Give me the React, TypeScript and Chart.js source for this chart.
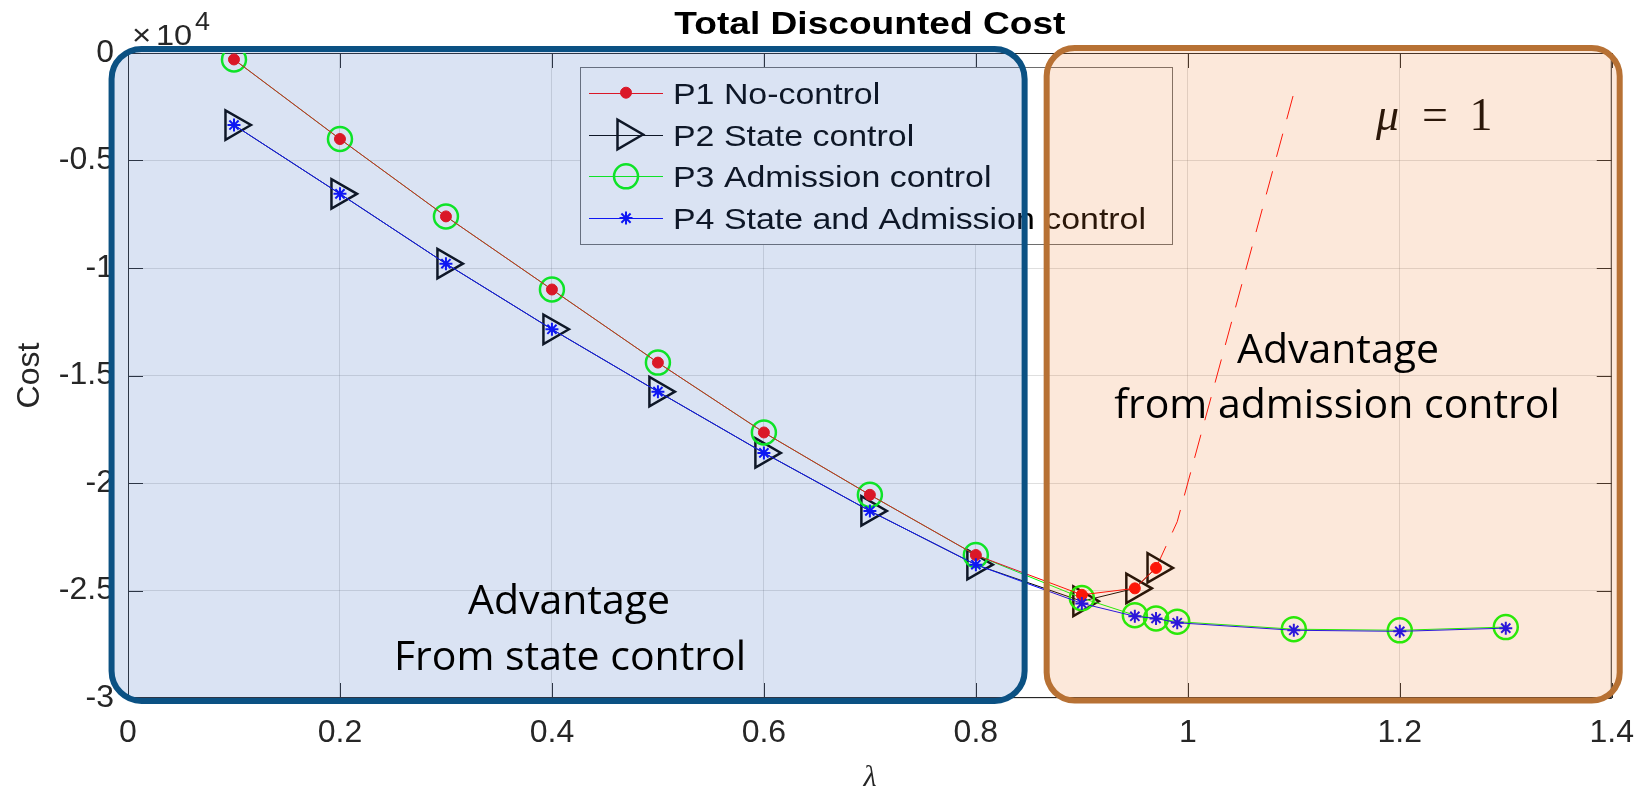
import React, { useEffect, useRef } from 'react';
import { Chart, registerables } from 'chart.js';

Chart.register(...registerables);

// Arrival rate λ and total discounted cost for each policy
const lambdaP1 = [0.1, 0.2, 0.3, 0.4, 0.5, 0.6, 0.7, 0.8, 0.9, 0.95, 0.97];
const costP1 = [-300, -4000, -7600, -11000, -14400, -17650, -20550, -23350, -25200, -24900, -23950];

const lambdaP2 = [0.1, 0.2, 0.3, 0.4, 0.5, 0.6, 0.7, 0.8, 0.9, 0.95, 0.97];
const costP2 = [-3350, -6550, -9800, -12850, -15750, -18600, -21300, -23800, -25500, -24900, -23950];

const lambdaP3 = [0.1, 0.2, 0.3, 0.4, 0.5, 0.6, 0.7, 0.8, 0.9, 0.95, 0.97, 0.99, 1.1, 1.2, 1.3];
const costP3 = [-300, -4000, -7600, -11000, -14400, -17650, -20550, -23350, -25350, -26150, -26300, -26450, -26800, -26850, -26700];

const lambdaP4 = [0.1, 0.2, 0.3, 0.4, 0.5, 0.6, 0.7, 0.8, 0.9, 0.95, 0.97, 0.99, 1.1, 1.2, 1.3];
const costP4 = [-3350, -6550, -9800, -12850, -15750, -18600, -21300, -23800, -25600, -26200, -26300, -26500, -26850, -26900, -26750];

// No-control cost past the stability limit (dashed)
const lambdaP1Unstable = [0.97, 0.99, 1.1];
const costP1Unstable = [-23950, -21800, -1870];

const seriesLabels = ['P1 No-control', 'P2 State control', 'P3 Admission control', 'P4 State and Admission control'];

const xTickLabels = ['0', '0.2', '0.4', '0.6', '0.8', '1', '1.2', '1.4'];
const yTickLabels = ['-3', '-2.5', '-2', '-1.5', '-1', '-0.5', '0'];

const SANS = "'Liberation Sans', Arial, Helvetica, sans-serif";
const SERIF = "'Liberation Serif', 'Times New Roman', serif";
const NOTE = "'Open Sans', 'Noto Sans', sans-serif";
const AXIS_COLOR = '#262626';

// Shaded regions, in axis units (x: λ, y: cost)
const stateRegion = { x0: -0.0155, x1: 0.846, y0: 190, y1: -30140 };
const admissionRegion = { x0: 0.8668, x1: 1.4075, y0: 230, y1: -30120 };

const toPoints = (xs: number[], ys: number[]) => xs.map((x, i) => ({ x, y: ys[i] }));

function drawStretched(ctx: CanvasRenderingContext2D, text: string, x: number, y: number, font: string, sx: number, align: 'left' | 'center', color: string) {
  ctx.save();
  ctx.font = font;
  ctx.fillStyle = color;
  ctx.textBaseline = 'alphabetic';
  ctx.textAlign = 'left';
  const w = ctx.measureText(text).width * sx;
  const left = align === 'center' ? x - w / 2 : x;
  ctx.translate(left, y);
  ctx.scale(sx, 1);
  ctx.fillText(text, 0, 0);
  ctx.restore();
}

function drawMarker(ctx: CanvasRenderingContext2D, ds: any, x: number, y: number) {
  const r = ds.pointRadius;
  ctx.save();
  ctx.lineWidth = ds.pointBorderWidth;
  ctx.strokeStyle = ds.pointBorderColor;
  ctx.fillStyle = ds.pointBackgroundColor;
  ctx.beginPath();
  if (ds.pointStyle === 'circle') {
    ctx.arc(x, y, r, 0, Math.PI * 2);
    ctx.fill();
    ctx.stroke();
  } else if (ds.pointStyle === 'triangle') {
    let a = ((ds.pointRotation || 0) * Math.PI) / 180;
    ctx.moveTo(x + Math.sin(a) * r, y - Math.cos(a) * r);
    for (let k = 0; k < 2; k++) {
      a += (2 * Math.PI) / 3;
      ctx.lineTo(x + Math.sin(a) * r, y - Math.cos(a) * r);
    }
    ctx.closePath();
    ctx.stroke();
  } else if (ds.pointStyle === 'star') {
    for (let k = 0; k < 4; k++) {
      const a = (k * Math.PI) / 4;
      ctx.moveTo(x - Math.cos(a) * r, y - Math.sin(a) * r);
      ctx.lineTo(x + Math.cos(a) * r, y + Math.sin(a) * r);
    }
    ctx.stroke();
  }
  ctx.restore();
}

function drawRegion(ctx: CanvasRenderingContext2D, chart: any, r: any, fill: string, stroke: string, radius: number) {
  const xs = chart.scales.x;
  const ys = chart.scales.y;
  const x0 = xs.getPixelForValue(r.x0);
  const x1 = xs.getPixelForValue(r.x1);
  const y0 = ys.getPixelForValue(r.y0);
  const y1 = ys.getPixelForValue(r.y1);
  ctx.save();
  ctx.beginPath();
  ctx.roundRect(x0, y0, x1 - x0, y1 - y0, radius);
  ctx.fillStyle = fill;
  ctx.fill();
  ctx.lineWidth = 6;
  ctx.strokeStyle = stroke;
  ctx.stroke();
  ctx.restore();
}

// Axes box with inward ticks on all four sides
const axesBoxPlugin = {
  id: 'axesBox',
  beforeDatasetsDraw(chart: any) {
    const { ctx, chartArea } = chart;
    const { left, right, top, bottom } = chartArea;
    const tick = 15;
    ctx.save();
    ctx.strokeStyle = AXIS_COLOR;
    ctx.lineWidth = 1;
    ctx.strokeRect(left + 0.5, top + 0.5, right - left - 1, bottom - top - 1);
    ctx.beginPath();
    chart.scales.x.ticks.forEach((t: any) => {
      const px = Math.round(chart.scales.x.getPixelForValue(t.value)) + 0.5;
      ctx.moveTo(px, bottom);
      ctx.lineTo(px, bottom - tick);
      ctx.moveTo(px, top);
      ctx.lineTo(px, top + tick);
    });
    chart.scales.y.ticks.forEach((t: any) => {
      const py = Math.round(chart.scales.y.getPixelForValue(t.value)) + 0.5;
      ctx.moveTo(left, py);
      ctx.lineTo(left + tick, py);
      ctx.moveTo(right, py);
      ctx.lineTo(right - tick, py);
    });
    ctx.stroke();
    ctx.restore();
  },
};

// Title, exponent, legend and the μ note
const decorationsPlugin = {
  id: 'decorations',
  afterDatasetsDraw(chart: any) {
    const { ctx } = chart;
    const cx = (chart.chartArea.left + chart.chartArea.right) / 2;

    drawStretched(ctx, 'Total Discounted Cost', cx, 34, `bold 32px ${SANS}`, 1.16, 'center', '#000');

    // ×10^4 axis multiplier
    drawStretched(ctx, '\u00d7', 132, 45, `30px ${SANS}`, 1.1, 'left', AXIS_COLOR);
    drawStretched(ctx, '10', 156, 45, `29px ${SANS}`, 1.12, 'left', AXIS_COLOR);
    drawStretched(ctx, '4', 195, 30, `25px ${SANS}`, 1.08, 'left', AXIS_COLOR);

    // legend
    const L = { x0: 580, y0: 67, x1: 1172, y1: 244, row0: 92.7, rowStep: 41.8, lineX0: 589, lineX1: 663, textX: 673 };
    ctx.save();
    ctx.fillStyle = '#ffffff';
    ctx.fillRect(L.x0, L.y0, L.x1 - L.x0, L.y1 - L.y0);
    ctx.strokeStyle = '#6e6e6e';
    ctx.lineWidth = 1;
    ctx.strokeRect(L.x0 + 0.5, L.y0 + 0.5, L.x1 - L.x0, L.y1 - L.y0);
    ctx.restore();
    seriesLabels.forEach((label, i) => {
      const ds = chart.data.datasets[i];
      const y = L.row0 + i * L.rowStep;
      ctx.save();
      ctx.strokeStyle = ds.borderColor;
      ctx.lineWidth = ds.borderWidth;
      ctx.beginPath();
      ctx.moveTo(L.lineX0, Math.round(y) + 0.5);
      ctx.lineTo(L.lineX1, Math.round(y) + 0.5);
      ctx.stroke();
      ctx.restore();
      drawMarker(ctx, ds, (L.lineX0 + L.lineX1) / 2, y);
      drawStretched(ctx, label, L.textX, y + 11, `30px ${SANS}`, 1.13, 'left', '#000');
    });

    // service rate note
    ctx.save();
    ctx.fillStyle = '#000';
    ctx.textBaseline = 'alphabetic';
    ctx.textAlign = 'left';
    ctx.font = `italic 46px ${SERIF}`;
    ctx.fillText('\u03bc', 1376, 130);
    ctx.textAlign = 'center';
    ctx.font = `46px ${SERIF}`;
    ctx.fillText('=', 1435, 130);
    ctx.fillText('1', 1481, 130);
    ctx.restore();
  },
  afterDraw(chart: any) {
    const { ctx } = chart;
    drawRegion(ctx, chart, stateRegion, 'rgba(68,114,196,0.2)', '#0b5183', 30);
    drawRegion(ctx, chart, admissionRegion, 'rgba(237,125,49,0.18)', '#b77134', 28);

    const font = `41px ${NOTE}`;
    drawStretched(ctx, 'Advantage', 569, 614, font, 1, 'center', '#000');
    drawStretched(ctx, 'From state control', 570, 670, font, 1, 'center', '#000');
    drawStretched(ctx, 'Advantage', 1338, 363, font, 1, 'center', '#000');
    drawStretched(ctx, 'from admission control', 1337, 418, font, 1, 'center', '#000');
  },
};

export default function App() {
  const canvasRef = useRef<HTMLCanvasElement | null>(null);

  useEffect(() => {
    const canvas = canvasRef.current;
    if (!canvas) return;

    const chart = new Chart(canvas, {
      type: 'line',
      data: {
        datasets: [
          {
            label: seriesLabels[0],
            data: toPoints(lambdaP1, costP1),
            borderColor: '#ff0000',
            backgroundColor: '#ff0000',
            borderWidth: 1,
            pointStyle: 'circle',
            pointRadius: 5.5,
            pointBorderWidth: 1,
            pointBorderColor: '#ff0000',
            pointBackgroundColor: '#ff0000',
            tension: 0,
            order: 2,
          },
          {
            label: seriesLabels[1],
            data: toPoints(lambdaP2, costP2),
            borderColor: '#000000',
            backgroundColor: 'rgba(0,0,0,0)',
            borderWidth: 1,
            pointStyle: 'triangle',
            pointRotation: 90,
            pointRadius: 17,
            pointBorderWidth: 2.5,
            pointBorderColor: '#000000',
            pointBackgroundColor: 'rgba(0,0,0,0)',
            tension: 0,
            order: 4,
          },
          {
            label: seriesLabels[2],
            data: toPoints(lambdaP3, costP3),
            borderColor: '#00ff00',
            backgroundColor: 'rgba(0,0,0,0)',
            borderWidth: 1,
            pointStyle: 'circle',
            pointRadius: 12,
            pointBorderWidth: 2.5,
            pointBorderColor: '#00ff00',
            pointBackgroundColor: 'rgba(0,0,0,0)',
            tension: 0,
            order: 3,
          },
          {
            label: seriesLabels[3],
            data: toPoints(lambdaP4, costP4),
            borderColor: '#0000ff',
            backgroundColor: '#0000ff',
            borderWidth: 1,
            pointStyle: 'star',
            pointRadius: 6.5,
            pointBorderWidth: 2,
            pointBorderColor: '#0000ff',
            pointBackgroundColor: '#0000ff',
            tension: 0,
            order: 1,
          },
          {
            label: '',
            data: toPoints(lambdaP1Unstable, costP1Unstable),
            borderColor: '#ff0000',
            borderWidth: 1,
            borderDash: [24, 15],
            pointRadius: 0,
            tension: 0,
            order: 5,
          },
        ],
      },
      options: {
        animation: false,
        responsive: false,
        devicePixelRatio: 1,
        layout: { padding: { top: 53, right: 33, bottom: 0, left: 0 } },
        plugins: {
          legend: { display: false },
          title: { display: false },
          tooltip: { enabled: false },
        },
        scales: {
          x: {
            type: 'linear',
            min: 0,
            max: 1.4,
            ticks: {
              stepSize: 0.2,
              padding: 16,
              color: AXIS_COLOR,
              font: { family: SANS, size: 32 },
              maxRotation: 0,
              callback: (value: any, index: number) => xTickLabels[index] ?? String(value),
            },
            grid: { color: 'rgba(38,38,38,0.15)', lineWidth: 1, drawTicks: false },
            border: { display: false },
            title: {
              display: true,
              text: '\u03bb',
              color: AXIS_COLOR,
              font: { family: SERIF, size: 30, style: 'italic', lineHeight: 0.8 },
              padding: { top: 0, bottom: 2 },
            },
            afterFit: (scale: any) => {
              scale.height = 94;
            },
          },
          y: {
            type: 'linear',
            min: -30000,
            max: 0,
            ticks: {
              stepSize: 5000,
              padding: 14,
              color: AXIS_COLOR,
              font: { family: SANS, size: 32 },
              callback: (value: any, index: number) => yTickLabels[index] ?? String(value),
            },
            grid: { color: 'rgba(38,38,38,0.15)', lineWidth: 1, drawTicks: false },
            border: { display: false },
            title: {
              display: true,
              text: 'Cost',
              color: AXIS_COLOR,
              font: { family: SANS, size: 32 },
              padding: { top: 11, bottom: 0 },
            },
            afterFit: (scale: any) => {
              scale.width = 128;
            },
          },
        },
      },
      plugins: [axesBoxPlugin, decorationsPlugin],
    } as any);

    return () => chart.destroy();
  }, []);

  return (
    <div style={{ position: 'fixed', left: 0, top: 0, width: 1650, height: 792, background: '#ffffff' }}>
      <canvas ref={canvasRef} width={1650} height={792} style={{ display: 'block' }} />
    </div>
  );
}
